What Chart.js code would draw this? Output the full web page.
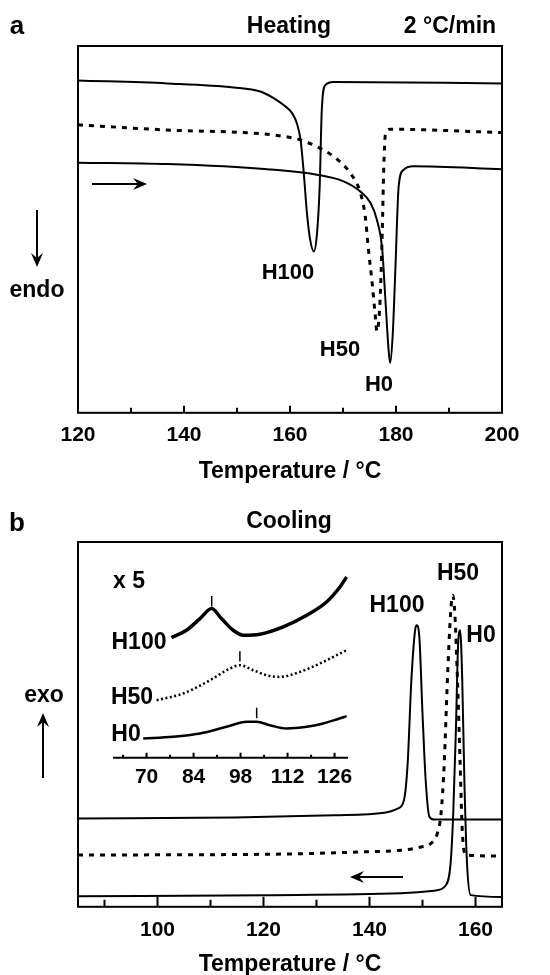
<!DOCTYPE html>
<html>
<head>
<meta charset="utf-8">
<script src="https://cdn.jsdelivr.net/npm/chart.js@4.4.1/dist/chart.umd.min.js"></script>
<style>
html, body { margin: 0; padding: 0; background: #fff; overflow: hidden; }
#wrap { position: relative; width: 550px; height: 975px; overflow: hidden; }
canvas { position: absolute; left: 0; }
.t { position: absolute; transform: translate(-50%, -50%); font: bold 23px "Liberation Sans", Arial, sans-serif;
     line-height: 1; white-space: nowrap; color: #000; }
</style>
</head>
<body>
<div id="wrap">
  <canvas id="cA" width="550" height="483" style="top:0"></canvas>
  <canvas id="cB" width="550" height="496" style="top:480px"></canvas>
  <canvas id="cI" width="270" height="257" style="left:100px;top:540px"></canvas>

  <!-- panel a -->
  <div class="t" style="left:17px;top:25px;font-size:26px">a</div>
  <div class="t" style="left:289px;top:25px">Heating</div>
  <div class="t" style="left:450px;top:25px">2 °C/min</div>
  <div class="t" style="left:288px;top:272px;font-size:22px">H100</div>
  <div class="t" style="left:340px;top:349px;font-size:22px">H50</div>
  <div class="t" style="left:379px;top:384px;font-size:22px">H0</div>
  <div class="t" style="left:37px;top:289px">endo</div>

  <!-- panel b -->
  <div class="t" style="left:17px;top:522px;font-size:26px">b</div>
  <div class="t" style="left:289px;top:520px">Cooling</div>
  <div class="t" style="left:129px;top:580px">x 5</div>
  <div class="t" style="left:139px;top:641px">H100</div>
  <div class="t" style="left:132px;top:696px">H50</div>
  <div class="t" style="left:126px;top:733px">H0</div>
  <div class="t" style="left:397px;top:604px">H100</div>
  <div class="t" style="left:458px;top:572px">H50</div>
  <div class="t" style="left:481px;top:634px">H0</div>
  <div class="t" style="left:44px;top:694px">exo</div>
</div>

<script>
// ---------- data: heating (panel a), heat flow in arbitrary units ----------
const heatT_H100 = [120, 136.8, 149.4, 154.4, 156.9, 158.8, 160.4, 161.3, 162, 162.6, 163.2, 163.8, 164.5, 165.1, 165.6, 166.0, 166.7, 168.2, 200];
const heatY_H100 = [90.6, 89.8, 88.7, 87.6, 85.8, 83.9, 81.7, 78.9, 74.4, 65.3, 54.4, 47.2, 44.0, 49.0, 61.7, 82.6, 89.4, 90.2, 89.8];

const heatT_H50 = [120, 136.8, 160.7, 165.7, 168.2, 171.4, 173.3, 174.2, 174.8, 175.5, 176.1, 176.4, 177.0, 177.4, 177.7, 178.0, 178.9, 200];
const heatY_H50 = [78.5, 77.1, 74.9, 72.1, 69.9, 65.3, 59.9, 53.5, 44.5, 35.4, 26.3, 22.2, 30.9, 49.0, 67.2, 75.8, 77.3, 76.4];

const heatT_H0 = [120, 136.8, 155.7, 165.1, 170.1, 173.3, 175.2, 176.4, 177.4, 178.0, 178.6, 178.9, 179.4, 179.9, 180.5, 181.4, 183.3, 200];
const heatY_H0 = [68.2, 67.8, 66.4, 64.9, 63.1, 60.3, 57.2, 52.6, 44.5, 30.9, 17.2, 13.6, 21.8, 39.9, 61.7, 66.2, 67.2, 66.4];

const heatTicksLabel = [120, 140, 160, 180, 200];
const heatTicksMajor = [140, 160, 180];
const heatTicksMinor = [130, 150, 170, 190];

// ---------- data: cooling (panel b) ----------
const coolT_H100 = [85, 114.5, 133.3, 142.8, 145.3, 146.5, 147.2, 147.9, 148.6, 148.9, 149.4, 150.0, 150.6, 151.3, 152.2, 165];
const coolY_H100 = [24.2, 24.5, 25.1, 25.8, 26.9, 29.2, 39.3, 62.1, 75.8, 77.2, 74.0, 53.0, 34.7, 24.7, 23.9, 23.9];

const coolT_H50 = [85, 120.8, 139.6, 145.9, 149.7, 151.6, 152.8, 153.5, 154.1, 154.7, 155.3, 155.7, 156.1, 156.6, 157.1, 157.5, 158.2, 165];
const coolY_H50 = [14.2, 14.4, 15.1, 15.5, 16.4, 17.4, 20.1, 25.6, 39.3, 62.1, 80.4, 85.4, 80.4, 62.1, 39.3, 21.0, 14.2, 13.9];

const coolT_H0 = [85, 120.8, 145.9, 152.2, 154.4, 155.3, 155.8, 156.3, 156.7, 157.1, 157.5, 157.9, 158.4, 159.1, 165];
const coolY_H0 = [2.9, 3.2, 3.7, 4.4, 5.9, 11.9, 25.6, 48.4, 71.2, 75.8, 62.1, 34.7, 11.9, 3.2, 2.7];

const coolTicksLabel = [100, 120, 140, 160];
const coolTicksMajor = [100, 120, 140, 160];
const coolTicksMinor = [90, 110, 130, 150];

// ---------- data: inset (x 5) ----------
const insT_H100 = [77.4, 81.9, 85.9, 89.4, 92.3, 95.8, 98.8, 103.8, 110.7, 117.7, 123.6, 127.6, 129.6];
const insY_H100 = [36.1, 38.3, 41.8, 44.8, 41.8, 38.3, 36.8, 37.1, 39.3, 42.8, 46.8, 51.3, 54.3];

const insT_H50 = [73.0, 80.9, 88.9, 94.8, 97.8, 101.8, 105.7, 109.7, 115.7, 121.6, 126.6, 129.6];
const insY_H50 = [17.3, 19.3, 23.3, 26.8, 27.8, 26.3, 24.8, 24.3, 25.8, 28.3, 30.8, 32.3];

const insT_H0 = [69.0, 77.9, 85.9, 93.8, 99.8, 102.8, 106.7, 111.7, 117.7, 122.6, 126.6, 129.6];
const insY_H0 = [5.8, 6.3, 7.3, 9.3, 10.8, 10.8, 9.8, 8.8, 9.3, 10.3, 11.5, 12.5];

// small peak markers above each inset curve
const insMarkT = [89.4, 97.8, 102.8];
const insMarkLo = [45.4, 28.9, 11.9];
const insMarkHi = [48.6, 32.0, 15.0];

const insTicksLabel = [70, 84, 98, 112, 126];
const insTicksMinor = [63, 77, 91, 105, 119];

// ---------- helpers ----------
Chart.defaults.font.family = '"Liberation Sans", Arial, sans-serif';
Chart.defaults.color = '#000';

function pts(T, Y) { return T.map((t, i) => ({ x: t, y: Y[i] })); }

function solid(T, Y, w) {
  return { data: pts(T, Y), borderColor: '#000', borderWidth: w, pointRadius: 0,
           cubicInterpolationMode: 'monotone', fill: false };
}
function dotted(T, Y, w, dash) {
  return { data: pts(T, Y), borderColor: '#000', borderWidth: w, pointRadius: 0,
           borderDash: dash, borderCapStyle: 'butt', cubicInterpolationMode: 'monotone', fill: false };
}

function drawArrow(ctx, x1, y1, x2, y2) {
  const ang = Math.atan2(y2 - y1, x2 - x1);
  const L = 14, W = 6, N = 9;
  ctx.beginPath();
  ctx.moveTo(x1, y1);
  ctx.lineTo(x2 - Math.cos(ang) * N, y2 - Math.sin(ang) * N);
  ctx.lineWidth = 2;
  ctx.stroke();
  ctx.save();
  ctx.translate(x2, y2);
  ctx.rotate(ang);
  ctx.beginPath();
  ctx.moveTo(0, 0);
  ctx.lineTo(-L, -W);
  ctx.lineTo(-N, 0);
  ctx.lineTo(-L, W);
  ctx.closePath();
  ctx.fill();
  ctx.restore();
}

// box / axis line, inward ticks and arrows
const framePlugin = {
  id: 'frame',
  afterDatasetsDraw(chart, args, o) {
    const { ctx, chartArea: a } = chart;
    const xs = chart.scales.x;
    ctx.save();
    ctx.strokeStyle = '#000';
    ctx.fillStyle = '#000';
    ctx.lineWidth = o.lineWidth || 2;
    if (o.box) {
      ctx.strokeRect(a.left, a.top, a.right - a.left, a.bottom - a.top);
    } else {
      ctx.beginPath();
      ctx.moveTo(a.left, a.bottom);
      ctx.lineTo(a.right, a.bottom);
      ctx.stroke();
    }
    ctx.beginPath();
    (o.major || []).forEach(v => {
      const px = xs.getPixelForValue(v);
      ctx.moveTo(px, a.bottom); ctx.lineTo(px, a.bottom - o.majorLen);
    });
    (o.minor || []).forEach(v => {
      const px = xs.getPixelForValue(v);
      ctx.moveTo(px, a.bottom); ctx.lineTo(px, a.bottom - o.minorLen);
    });
    ctx.stroke();
    (o.arrows || []).forEach(ar => drawArrow(ctx, ar[0], ar[1], ar[2], ar[3]));
    ctx.restore();
  }
};

function xScale(min, max, labels, pad, title, titleTop) {
  return {
    type: 'linear', min: min, max: max,
    afterBuildTicks: s => { s.ticks = labels.map(v => ({ value: v })); },
    ticks: { autoSkip: false, maxRotation: 0, padding: pad, color: '#000',
             font: { size: 21, weight: 'bold' } },
    grid: { display: false, drawTicks: false },
    border: { display: false },
    title: title ? { display: true, text: title, color: '#000',
                     font: { size: 23, weight: 'bold', lineHeight: 1 },
                     padding: { top: titleTop, bottom: 0 } } : { display: false }
  };
}

function baseOpts(padding, x, ymin, ymax, frame) {
  return {
    responsive: false, animation: false, events: [],
    layout: { padding: padding },
    plugins: { legend: { display: false }, tooltip: { enabled: false }, frame: frame },
    scales: { x: x, y: { display: false, min: ymin, max: ymax } }
  };
}

// ---------- panel a ----------
new Chart(document.getElementById('cA'), {
  type: 'line',
  data: { datasets: [
    solid(heatT_H100, heatY_H100, 2),
    dotted(heatT_H50, heatY_H50, 3, [5, 6]),
    solid(heatT_H0, heatY_H0, 2)
  ] },
  options: baseOpts({ left: 78, right: 48, top: 46, bottom: 0 },
    xScale(120, 200, heatTicksLabel, 10, 'Temperature / °C', 2), 0, 100,
    { box: true, major: heatTicksMajor, minor: heatTicksMinor, majorLen: 7, minorLen: 5,
      arrows: [[37, 210, 37, 267], [92, 184, 147, 184]] }),
  plugins: [framePlugin]
});

// ---------- panel b ----------
new Chart(document.getElementById('cB'), {
  type: 'line',
  data: { datasets: [
    solid(coolT_H100, coolY_H100, 2),
    dotted(coolT_H50, coolY_H50, 3, [5, 6]),
    solid(coolT_H0, coolY_H0, 2)
  ] },
  options: baseOpts({ left: 78, right: 48, top: 62, bottom: 0 },
    xScale(85, 165, coolTicksLabel, 11, 'Temperature / °C', -1), 0, 100,
    { box: true, major: coolTicksMajor, minor: coolTicksMinor, majorLen: 10, minorLen: 7,
      arrows: [[43, 298, 43, 233], [403, 397, 350, 397]] }),
  plugins: [framePlugin]
});

// ---------- inset ----------
const markSets = insMarkT.map((t, i) => ({
  data: [{ x: t, y: insMarkLo[i] }, { x: t, y: insMarkHi[i] }],
  borderColor: '#000', borderWidth: 1.5, pointRadius: 0, fill: false
}));

new Chart(document.getElementById('cI'), {
  type: 'line',
  data: { datasets: [
    solid(insT_H100, insY_H100, 3.5),
    dotted(insT_H50, insY_H50, 2.5, [2, 2.5]),
    solid(insT_H0, insY_H0, 2.5)
  ].concat(markSets) },
  options: baseOpts({ left: 13, right: 22, top: 18, bottom: 0 },
    xScale(60, 130, insTicksLabel, 7, null, 0), 0, 60,
    { box: false, major: insTicksLabel, minor: insTicksMinor, majorLen: 5, minorLen: 3 }),
  plugins: [framePlugin]
});
</script>
</body>
</html>
